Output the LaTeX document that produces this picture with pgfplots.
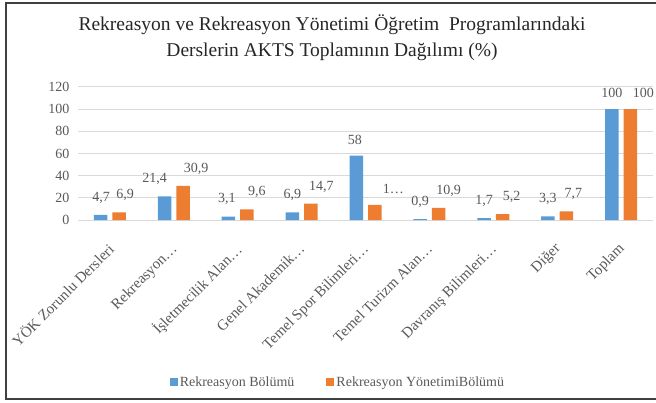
\documentclass[border=0pt]{standalone}
\usepackage{pgfplots}
\pgfplotsset{compat=1.18}
\usepackage{pgfplotstable}
\usepackage{fontspec}
\setmainfont{Liberation Serif}
\definecolor{cblue}{HTML}{5B9BD5}
\definecolor{corange}{HTML}{ED7D31}
\definecolor{ctext}{HTML}{595959}
\definecolor{cgrid}{HTML}{D9D9D9}
\newcommand\tickfont{\fontsize{14bp}{16bp}\selectfont}
\newcommand\catfont{\fontsize{15bp}{17bp}\selectfont}
\newcommand\titlefont{\fontsize{19.5bp}{23bp}\selectfont}
\pgfplotstableread{
x a alab ash b blab bsh
0 4.7 4,7 0.5 6.9 6,9 6
1 21.4 21,4 -10 30.9 30,9 13
2 3.1 3,1 -1.5 9.6 9,6 10
3 6.9 6,9 0 14.7 14,7 10.5
4 58 58 -1.5 13.6 1… 18.5
5 0.9 0,9 0 10.9 10,9 10
6 1.7 1,7 0 5.2 5,2 9
7 3.3 3,3 0 7.7 7,7 7
8 100 100 0 100 100 13
}\data
\begin{document}
\begin{tikzpicture}[x=1bp,y=1bp]
\useasboundingbox (0,0) rectangle (656,402);
\draw[color=black!75, line width=1.2bp] (662,399) -- (6,399) -- (6,3) -- (662,3);
\node[anchor=base, color=black!85, font=\titlefont] at (332,372) {Rekreasyon ve Rekreasyon Yönetimi Öğretim\ \ Programlarındaki};
\node[anchor=base, color=black!85, font=\titlefont] at (332,346) {Derslerin AKTS Toplamının Dağılımı (\%)};
\begin{axis}[
  at={(78bp,182bp)}, anchor=south west,
  scale only axis, width=575bp, height=133bp,
  xmin=-0.5, xmax=8.5, ymin=0, ymax=120,
  ytick={0,20,...,120},
  xtick={0,...,8},
  xticklabels={YÖK Zorunlu Dersleri, Rekreasyon…, İşletmecilik Alan…, Genel Akademik…, Temel Spor Bilimleri…, Temel Turizm Alan…, Davranış Bilimleri…, Diğer, Toplam},
  /pgf/number format/assume math mode=true,
  axis x line*=bottom, axis y line*=left,
  x axis line style={draw=cgrid, line width=1bp, -},
  y axis line style={draw=none},
  major tick length=0pt,
  ymajorgrids, grid style={draw=cgrid, line width=1bp},
  yticklabel style={font=\tickfont, text=ctext, xshift=-5bp},
  xticklabel style={font=\catfont, text=ctext, rotate=45, anchor=north east, inner sep=2bp, yshift=-11bp, xshift=-16bp},
  nodes near coords style={font=\tickfont, text=ctext, anchor=south, yshift=8bp},
  legend style={at={(0.452,-1.218)}, anchor=center, legend columns=2, draw=none, fill=none,
    font=\tickfont, text=ctext,
    /tikz/every even column/.append style={column sep=30bp}},
  legend image code/.code={\path[#1, draw=none] (0bp,-4bp) rectangle (8bp,4bp);},
]
\addplot[ybar, bar width=13.5bp, bar shift=-9.25bp, fill=cblue, draw=none,
  nodes near coords, point meta=explicit symbolic,
  visualization depends on={\thisrow{ash} \as \lsh},
  every node near coord/.append style={xshift=-9.25bp+\lsh bp}]
  table[x=x, y=a, meta=alab]{\data};
\addlegendentry{Rekreasyon Bölümü}
\addplot[ybar, bar width=13.5bp, bar shift=9.25bp, fill=corange, draw=none,
  nodes near coords, point meta=explicit symbolic,
  visualization depends on={\thisrow{bsh} \as \lsh},
  every node near coord/.append style={xshift=9.25bp+\lsh bp}]
  table[x=x, y=b, meta=blab]{\data};
\addlegendentry{Rekreasyon YönetimiBölümü}
\end{axis}
\end{tikzpicture}
\end{document}
